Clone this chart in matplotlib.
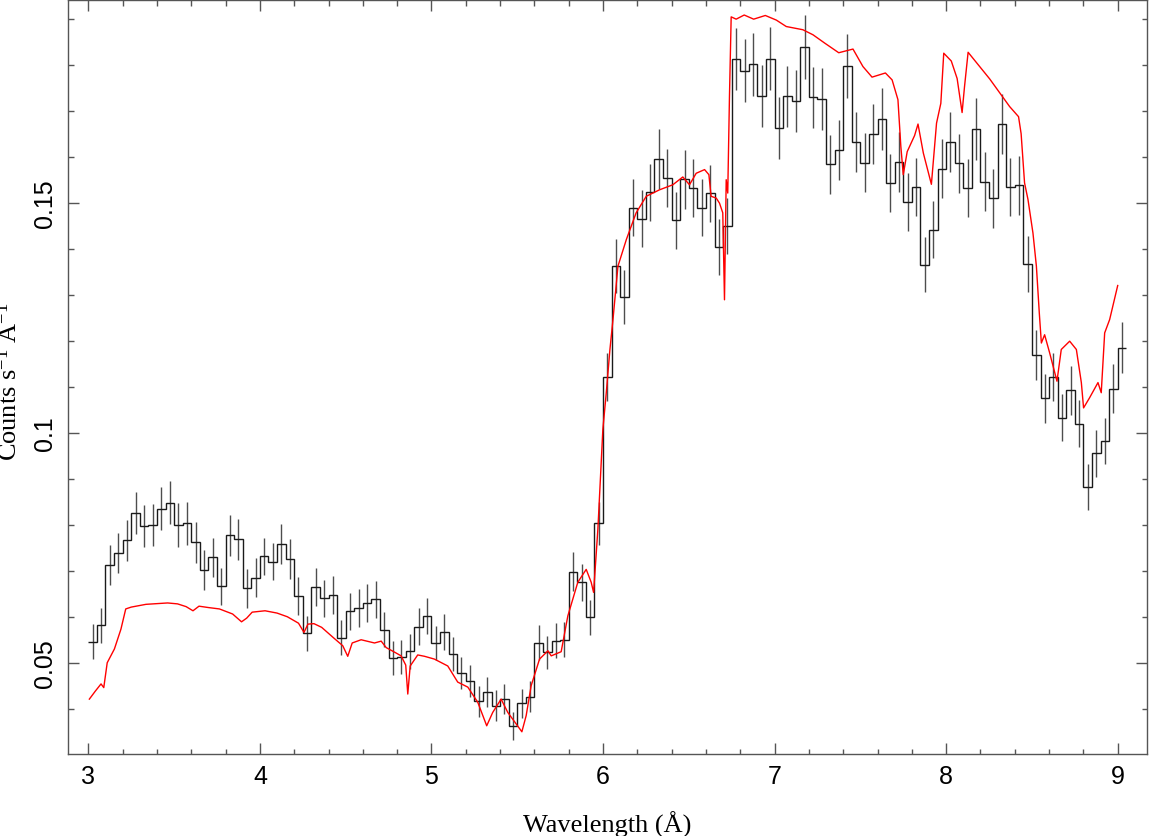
import numpy as np
import matplotlib
matplotlib.use('Agg')
import matplotlib.pyplot as plt
from matplotlib.ticker import MultipleLocator, FormatStrFormatter

# binned spectrum: 0.05 A bins starting at 3.00 A
bin_start = 3.0
bin_width = 0.05
counts = [
    0.0546, 0.0581, 0.0713, 0.0739, 0.0766, 0.0825, 0.0797, 0.0800, 0.0835, 0.0848,
    0.0799, 0.0803, 0.0762, 0.0702, 0.0729, 0.0666, 0.0777, 0.0768, 0.0662, 0.0685,
    0.0731, 0.0720, 0.0758, 0.0725, 0.0645, 0.0564, 0.0664, 0.0640, 0.0648, 0.0554,
    0.0612, 0.0619, 0.0630, 0.0638, 0.0572, 0.0510, 0.0512, 0.0525, 0.0578, 0.0602,
    0.0543, 0.0566, 0.0519, 0.0477, 0.0460, 0.0416, 0.0436, 0.0407, 0.0421, 0.0363,
    0.0412, 0.0426, 0.0544, 0.0523, 0.0548, 0.0550, 0.0698, 0.0675, 0.0599, 0.0803,
    0.1121, 0.1362, 0.1295, 0.1489, 0.1465, 0.1523, 0.1595, 0.1554, 0.1462, 0.1551,
    0.1531, 0.1489, 0.1521, 0.1404, 0.1449, 0.1812, 0.1787, 0.1801, 0.1732, 0.1813,
    0.1663, 0.1731, 0.1721, 0.1839, 0.1729, 0.1726, 0.1584, 0.1614, 0.1797, 0.1632,
    0.1587, 0.1649, 0.1682, 0.1543, 0.1588, 0.1502, 0.1535, 0.1365, 0.1441, 0.1574,
    0.1632, 0.1586, 0.1532, 0.1660, 0.1546, 0.1510, 0.1671, 0.1534, 0.1538, 0.1367,
    0.1169, 0.1075, 0.1121, 0.1033, 0.1092, 0.1020, 0.0882, 0.0955, 0.0982, 0.1096,
    0.1185,
]
count_err = [
    0.0038, 0.0038, 0.0043, 0.0044, 0.0044, 0.0046, 0.0045, 0.0046, 0.0046, 0.0047,
    0.0048, 0.0046, 0.0045, 0.0044, 0.0043, 0.0041, 0.0045, 0.0044, 0.0042, 0.0043,
    0.0040, 0.0041, 0.0043, 0.0043, 0.0041, 0.0038, 0.0041, 0.0040, 0.0041, 0.0038,
    0.0040, 0.0041, 0.0041, 0.0040, 0.0038, 0.0037, 0.0037, 0.0038, 0.0040, 0.0039,
    0.0036, 0.0039, 0.0036, 0.0035, 0.0035, 0.0033, 0.0033, 0.0033, 0.0033, 0.0031,
    0.0032, 0.0034, 0.0037, 0.0036, 0.0038, 0.0038, 0.0042, 0.0040, 0.0038, 0.0046,
    0.0053, 0.0059, 0.0058, 0.0062, 0.0062, 0.0062, 0.0065, 0.0063, 0.0062, 0.0064,
    0.0063, 0.0062, 0.0062, 0.0061, 0.0061, 0.0068, 0.0068, 0.0068, 0.0067, 0.0068,
    0.0067, 0.0067, 0.0067, 0.0070, 0.0067, 0.0067, 0.0064, 0.0065, 0.0069, 0.0065,
    0.0064, 0.0065, 0.0067, 0.0063, 0.0065, 0.0063, 0.0063, 0.0060, 0.0062, 0.0064,
    0.0065, 0.0064, 0.0063, 0.0067, 0.0064, 0.0064, 0.0065, 0.0063, 0.0064, 0.0060,
    0.0055, 0.0053, 0.0053, 0.0052, 0.0053, 0.0052, 0.0049, 0.0051, 0.0051, 0.0054,
    0.0056,
]

# model curve (red), wavelength in A and counts/s/A
model_wl = [
    3.006, 3.040, 3.074, 3.090, 3.110, 3.152, 3.190, 3.218, 3.250, 3.336,
    3.462, 3.520, 3.570, 3.610, 3.645, 3.700, 3.764, 3.841, 3.893, 3.923,
    3.955, 4.030, 4.100, 4.160, 4.225, 4.257, 4.280, 4.315, 4.360, 4.430,
    4.483, 4.512, 4.538, 4.590, 4.668, 4.707, 4.736, 4.790, 4.823, 4.850,
    4.862, 4.876, 4.920, 4.960, 5.017, 5.095, 5.153, 5.212, 5.270, 5.322,
    5.357, 5.406, 5.445, 5.494, 5.527, 5.552, 5.581, 5.630, 5.679, 5.698,
    5.756, 5.795, 5.853, 5.902, 5.931, 5.945, 5.970, 5.999, 6.019, 6.040,
    6.058, 6.087, 6.136, 6.193, 6.252, 6.329, 6.407, 6.465, 6.504, 6.543,
    6.592, 6.617, 6.630, 6.660, 6.679, 6.698, 6.708, 6.718, 6.727, 6.737,
    6.747, 6.776, 6.823, 6.878, 6.946, 7.010, 7.068, 7.165, 7.224, 7.292,
    7.374, 7.457, 7.515, 7.568, 7.646, 7.685, 7.719, 7.736, 7.750, 7.773,
    7.816, 7.836, 7.867, 7.914, 7.944, 7.969, 7.986, 8.030, 8.064, 8.093,
    8.107, 8.128, 8.254, 8.370, 8.422, 8.437, 8.457, 8.477, 8.506, 8.526,
    8.543, 8.555, 8.574, 8.603, 8.646, 8.671, 8.720, 8.759, 8.788, 8.801,
    8.836, 8.885, 8.904, 8.924, 8.953, 9.000,
]
model_val = [
    0.0421, 0.0438, 0.0454, 0.0446, 0.0500, 0.0530, 0.0573, 0.0617, 0.0621, 0.0627,
    0.0630, 0.0628, 0.0622, 0.0613, 0.0623, 0.0620, 0.0617, 0.0606, 0.0589, 0.0597,
    0.0610, 0.0613, 0.0608, 0.0600, 0.0586, 0.0566, 0.0584, 0.0585, 0.0577, 0.0554,
    0.0537, 0.0514, 0.0543, 0.0550, 0.0543, 0.0547, 0.0533, 0.0522, 0.0515, 0.0495,
    0.0432, 0.0493, 0.0517, 0.0514, 0.0508, 0.0493, 0.0458, 0.0447, 0.0414, 0.0363,
    0.0392, 0.0421, 0.0392, 0.0367, 0.0350, 0.0385, 0.0450, 0.0508, 0.0526, 0.0515,
    0.0524, 0.0602, 0.0675, 0.0703, 0.0675, 0.0653, 0.0790, 0.1007, 0.1087, 0.1180,
    0.1246, 0.1362, 0.1420, 0.1478, 0.1514, 0.1528, 0.1539, 0.1556, 0.1539, 0.1564,
    0.1572, 0.1561, 0.1514, 0.1510, 0.1499, 0.1478, 0.1289, 0.1550, 0.1521, 0.1731,
    0.1904, 0.1899, 0.1908, 0.1899, 0.1907, 0.1897, 0.1883, 0.1876, 0.1865, 0.1847,
    0.1826, 0.1834, 0.1796, 0.1773, 0.1782, 0.1767, 0.1724, 0.1622, 0.1561, 0.1611,
    0.1646, 0.1671, 0.1608, 0.1540, 0.1673, 0.1716, 0.1825, 0.1808, 0.1770, 0.1696,
    0.1752, 0.1827, 0.1769, 0.1709, 0.1687, 0.1650, 0.1543, 0.1507, 0.1434, 0.1362,
    0.1260, 0.1195, 0.1213, 0.1174, 0.1112, 0.1181, 0.1199, 0.1181, 0.1109, 0.1054,
    0.1076, 0.1109, 0.1087, 0.1217, 0.1246, 0.1320,
]

# look
DATA_C = '#1a1a1a'
ERR_C = '#4d4d4d'
MODEL_C = '#ff0000'
FRAME_C = '#555555'

plt.rcParams['mathtext.fontset'] = 'custom'
plt.rcParams['mathtext.rm'] = 'Liberation Serif'
plt.rcParams['mathtext.it'] = 'Liberation Serif:italic'

fig = plt.figure(figsize=(11.49, 8.37), dpi=100)
ax = fig.add_axes((0.0592, 0.0976, 0.9391, 0.9014))

edges = bin_start + bin_width * np.arange(len(counts) + 1)
centers = 0.5 * (edges[:-1] + edges[1:])

ax.stairs(counts, edges, baseline=None, color=DATA_C, lw=1.0, zorder=3)
ax.errorbar(centers, counts, yerr=count_err, fmt='none', ecolor=ERR_C,
            elinewidth=1.0, capsize=0, zorder=2)
ax.plot(model_wl, model_val, color=MODEL_C, lw=1.0, zorder=4)

ax.set_xlim(2.8816, 9.171)
ax.set_ylim(0.0301, 0.1941)

ax.xaxis.set_major_locator(MultipleLocator(1))
ax.xaxis.set_minor_locator(MultipleLocator(0.2))
ax.yaxis.set_major_locator(MultipleLocator(0.05))
ax.yaxis.set_minor_locator(MultipleLocator(0.01))
ax.yaxis.set_major_formatter(FormatStrFormatter('%g'))

ax.tick_params(which='both', direction='in', top=True, right=True,
               color=FRAME_C, width=1.0)
ax.tick_params(which='major', length=11.5 * 0.72)
ax.tick_params(which='minor', length=5.5 * 0.72)
ax.tick_params(axis='x', pad=7)
ax.tick_params(axis='y', pad=8, labelrotation=90)

for lab in ax.get_xticklabels() + ax.get_yticklabels():
    lab.set_family('Liberation Sans')
    lab.set_fontsize(18)
for lab in ax.get_yticklabels():
    lab.set_va('center')

for s in ax.spines.values():
    s.set_color(FRAME_C)
    s.set_linewidth(1.0)

ax.set_xlabel('Wavelength (Å)', family='Liberation Serif', fontsize=19, labelpad=16)
ax.set_ylabel('Counts s$^{-1}$ A$^{-1}$', family='Liberation Serif', fontsize=19)
ax.yaxis.set_label_coords(-0.043, 0.495)

fig.savefig('out.png', dpi=100)
